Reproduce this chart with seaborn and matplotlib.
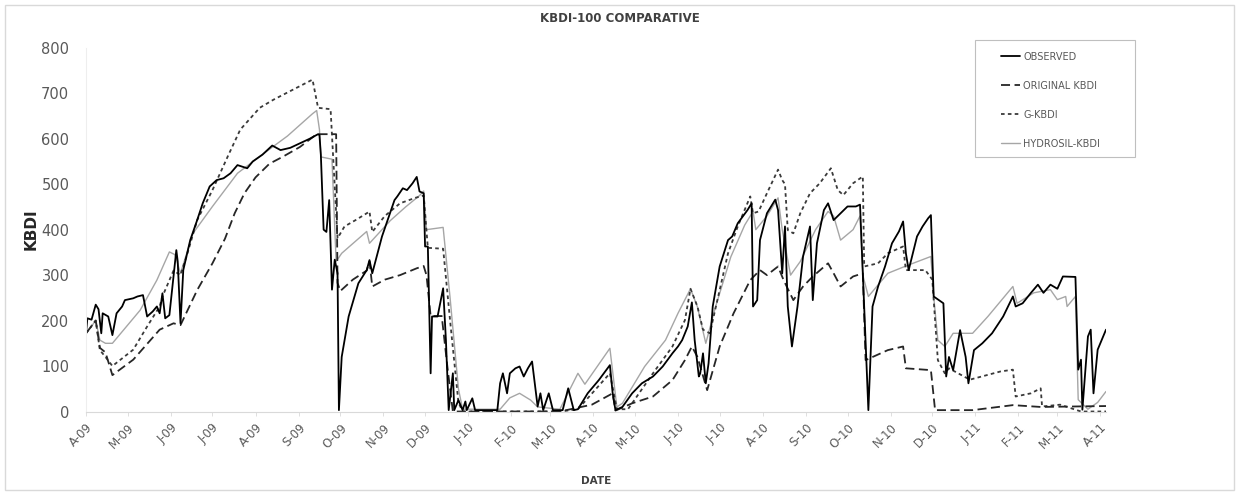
import numpy as np
import pandas as pd
import matplotlib
matplotlib.use("Agg")
import matplotlib.pyplot as plt
from matplotlib.patches import Rectangle
import seaborn as sns

sns.set_theme(style="white")
plt.rcParams["font.family"] = ["DejaVu Sans"]

START = "2009-04-01"

series_names = ["OBSERVED", "ORIGINAL KBDI", "G-KBDI", "HYDROSIL-KBDI"]

# day offsets from 1 Apr 2009 and KBDI values
obs_days = [0, 1, 4, 7, 9, 11, 12, 16, 19, 22, 26, 28, 34, 37, 41, 44, 48, 51, 53, 55, 57, 60, 65, 66, 68, 70,
            75, 80, 84, 89, 94, 99, 104, 109, 116, 120, 127, 134, 140, 147, 154, 161, 167, 168, 169, 171, 173,
            175, 177, 179, 181, 182, 184, 189, 196, 202, 204, 206, 213, 222, 224, 228, 231, 235, 238, 240, 243,
            244, 246, 248, 249, 253, 257, 259, 261, 264, 265, 268, 271, 273, 274, 278, 280, 296, 298, 300, 303,
            305, 309, 312, 315, 318, 321, 325, 327, 329, 333, 336, 343, 347, 351, 354, 361, 369, 377, 379, 381,
            386, 393, 400, 408, 415, 422, 426, 429, 433, 436, 438, 441, 442, 444, 446, 448, 451, 456, 462, 465,
            469, 476, 479, 480, 483, 485, 490, 496, 498, 501, 503, 505, 508, 512, 516, 521, 523, 526, 531, 534,
            538, 543, 548, 554, 557, 559, 561, 563, 566, 570, 575, 580, 585, 588, 590, 592, 595, 598, 602, 606,
            608, 610, 617, 619, 621, 624, 629, 633, 635, 639, 645, 652, 660, 667, 669, 674, 680, 685, 689, 694,
            699, 703, 712, 714, 716, 717, 721, 723, 725, 728, 734]
obs_vals = [172, 205, 202, 235, 225, 172, 216, 209, 168, 216, 231, 245, 249, 253, 256, 209, 220, 231, 216, 260,
            205, 212, 355, 330, 194, 311, 377, 421, 458, 495, 509, 513, 524, 542, 535, 550, 565, 585, 575, 580,
            590, 600, 610, 608, 565, 400, 395, 465, 268, 334, 304, 3, 120, 209, 282, 311, 333, 304, 385, 465,
            473, 491, 487, 502, 516, 484, 480, 363, 363, 84, 209, 209, 271, 157, 3, 84, 3, 25, 3, 22, 3, 29, 3,
            3, 62, 84, 40, 84, 95, 99, 77, 95, 110, 11, 40, 3, 40, 3, 3, 51, 3, 5, 40, 69, 102, 40, 3, 10, 40,
            62, 77, 99, 128, 143, 157, 187, 240, 157, 77, 84, 128, 62, 106, 231, 319, 377, 385, 414, 443, 458,
            231, 245, 377, 436, 466, 443, 304, 407, 231, 143, 231, 341, 407, 245, 370, 443, 458, 421, 436, 451,
            451, 455, 304, 157, 3, 231, 275, 319, 370, 396, 418, 348, 311, 348, 385, 407, 425, 432, 253, 238,
            77, 120, 91, 179, 120, 62, 135, 150, 172, 209, 253, 231, 238, 261, 279, 261, 279, 270, 297, 296, 92,
            114, 4, 165, 180, 40, 136, 180]

orig_days = [0, 7, 10, 14, 19, 34, 53, 63, 68, 80, 91, 100, 107, 114, 122, 132, 142, 154, 166, 180, 181, 183,
             192, 202, 204, 206, 215, 226, 238, 243, 245, 248, 256, 260, 264, 341, 364, 379, 381, 393, 408, 422,
             431, 436, 440, 447, 456, 466, 478, 485, 490, 498, 502, 509, 516, 523, 534, 538, 543, 552, 559, 561,
             577, 588, 590, 608, 611, 638, 667, 687, 734]
orig_vals = [172, 200, 140, 130, 80, 114, 180, 194, 190, 267, 326, 380, 436, 480, 515, 545, 561, 582, 610, 610,
             283, 265, 290, 310, 330, 275, 290, 300, 315, 320, 300, 210, 210, 100, 0, 0, 15, 40, 2, 18, 33, 69,
             113, 143, 120, 47, 143, 216, 289, 311, 300, 319, 289, 245, 275, 297, 326, 304, 275, 297, 304, 113,
             135, 143, 95, 91, 3, 3, 14, 10, 12]

g_days = [0, 7, 10, 14, 19, 34, 44, 53, 55, 63, 68, 73, 80, 91, 102, 111, 125, 135, 149, 163, 167, 176, 181,
          186, 194, 202, 204, 206, 215, 226, 237, 243, 246, 257, 262, 268, 271, 341, 354, 370, 377, 382, 390,
          408, 422, 431, 435, 440, 444, 449, 451, 462, 469, 478, 480, 484, 490, 498, 501, 503, 505, 509, 514,
          521, 528, 536, 541, 545, 552, 559, 560, 570, 577, 588, 590, 604, 609, 613, 618, 621, 636, 658, 667,
          669, 680, 687, 688, 701, 716, 734]
g_vals = [172, 200, 135, 120, 100, 136, 187, 231, 253, 310, 300, 348, 421, 487, 561, 620, 668, 686, 708, 730,
          668, 665, 381, 407, 421, 436, 440, 395, 430, 458, 470, 475, 360, 358, 200, 20, 0, 0, 5, 60, 84, 5, 5,
          84, 143, 201, 270, 231, 180, 172, 200, 348, 407, 473, 436, 440, 480, 532, 509, 500, 399, 392, 436,
          480, 502, 535, 487, 476, 502, 517, 319, 326, 348, 363, 311, 311, 290, 113, 84, 95, 70, 88, 92, 33,
          40, 51, 11, 15, 0, 0]

hyd_days = [0, 7, 10, 14, 19, 39, 51, 60, 64, 68, 77, 91, 109, 125, 145, 163, 166, 168, 169, 177, 180, 184,
            202, 204, 219, 230, 240, 243, 245, 257, 262, 268, 271, 298, 305, 312, 320, 325, 341, 354, 359, 377,
            382, 386, 402, 417, 426, 435, 440, 446, 453, 464, 474, 480, 482, 490, 498, 501, 507, 514, 525, 534,
            538, 543, 552, 557, 559, 563, 577, 590, 608, 610, 613, 618, 624, 638, 649, 667, 670, 682, 694, 699,
            705, 706, 712, 714, 721, 728, 734]
hyd_vals = [172, 200, 157, 150, 150, 223, 289, 351, 345, 304, 392, 451, 524, 561, 606, 655, 662, 620, 560, 555,
            330, 348, 396, 370, 420, 450, 475, 485, 400, 405, 250, 50, 5, 5, 30, 40, 25, 10, 5, 84, 60, 139, 10,
            18, 99, 157, 216, 270, 230, 150, 230, 340, 410, 440, 400, 430, 470, 400, 300, 330, 400, 440, 430,
            377, 400, 430, 300, 253, 304, 320, 341, 253, 157, 143, 172, 172, 209, 275, 238, 261, 268, 246, 253,
            231, 253, 26, 5, 20, 44]

tick_labels = ["A-09", "M-09", "J-09", "J-09", "A-09", "S-09", "O-09", "N-09", "D-09", "J-10", "F-10", "M-10",
               "A-10", "M-10", "J-10", "J-10", "A-10", "S-10", "O-10", "N-10", "D-10", "J-11", "F-11", "M-11",
               "A-11"]
y_ticks = [0, 100, 200, 300, 400, 500, 600, 700, 800]

start = pd.Timestamp(START)


def frame(days, vals, name):
    return pd.DataFrame({"date": start + pd.to_timedelta(days, unit="D"),
                         "KBDI": vals, "series": name})


data = {
    "OBSERVED": frame(obs_days, obs_vals, "OBSERVED"),
    "ORIGINAL KBDI": frame(orig_days, orig_vals, "ORIGINAL KBDI"),
    "G-KBDI": frame(g_days, g_vals, "G-KBDI"),
    "HYDROSIL-KBDI": frame(hyd_days, hyd_vals, "HYDROSIL-KBDI"),
}
styles = {
    "OBSERVED": dict(color="#000000", lw=1.3, dashes=None),
    "ORIGINAL KBDI": dict(color="#262626", lw=1.3, dashes=(5, 2.5)),
    "G-KBDI": dict(color="#3a3a3a", lw=1.3, dashes=(2, 1.8)),
    "HYDROSIL-KBDI": dict(color="#a6a6a6", lw=1.0, dashes=None),
}

W, H = 1239, 495
fig = plt.figure(figsize=(W / 100, H / 100), dpi=100)
fig.patch.set_facecolor("white")
ax = fig.add_axes([86 / W, 83.5 / H, 1020 / W, 363.7 / H])

handles = {}
for name in ["HYDROSIL-KBDI", "G-KBDI", "ORIGINAL KBDI", "OBSERVED"]:
    st = styles[name]
    sns.lineplot(data=data[name], x="date", y="KBDI", ax=ax, color=st["color"], lw=st["lw"],
                 estimator=None, sort=False, legend=False)
    line = ax.lines[-1]
    if st["dashes"] is not None:
        line.set_dashes(st["dashes"])
    line.set_label(name)
    handles[name] = line

ax.set_xlim(start, start + pd.Timedelta(days=734))
ax.set_ylim(0, 800)
ticks = pd.date_range(start, periods=len(tick_labels), freq="MS")
ax.set_xticks(ticks)
ax.set_xticklabels(tick_labels, rotation=45, ha="right", va="top", rotation_mode="anchor",
                   fontsize=8.5, color="#595959")
ax.set_yticks(y_ticks)
ax.set_yticklabels([str(v) for v in y_ticks], fontsize=10.5, color="#595959")
ax.tick_params(axis="y", length=0, pad=12)
ax.tick_params(axis="x", length=3, width=0.6, color="#d9d9d9", pad=4, direction="out")
ax.xaxis.set_ticks_position("bottom")
ax.set_xlabel("")
ax.set_ylabel("")
for s in ["top", "right"]:
    ax.spines[s].set_visible(False)
ax.spines["left"].set_color("#eeeeee")
ax.spines["bottom"].set_color("#d9d9d9")
ax.spines["left"].set_linewidth(0.8)
ax.spines["bottom"].set_linewidth(0.8)
ax.grid(False)

fig.text(620 / W, 1 - 18 / H, "KBDI-100 COMPARATIVE", ha="center", va="center",
         fontsize=8.5, fontweight="bold", color="#404040")
fig.text(31 / W, 1 - 229 / H, "KBDI", ha="center", va="center", rotation=90,
         fontsize=11, fontweight="bold", color="#262626")
fig.text(596 / W, 1 - 481 / H, "DATE", ha="center", va="center",
         fontsize=7.5, fontweight="bold", color="#404040")

# legend box and entries
fig.patches.append(Rectangle((975 / W, 1 - 157 / H), 160 / W, 117 / H, transform=fig.transFigure,
                             fill=False, edgecolor="#bfbfbf", lw=0.8))
leg = fig.legend(handles=[handles[n] for n in series_names], labels=series_names,
                 loc="upper left", bbox_to_anchor=(993 / W, 1 - 44 / H), frameon=False,
                 fontsize=7, labelspacing=1.95, handlelength=2.0, handletextpad=0.3,
                 borderpad=0.3, labelcolor="#595959")

# outer chart border
fig.patches.append(Rectangle((5 / W, 5 / H), 1229 / W, 485 / H, transform=fig.transFigure,
                             fill=False, edgecolor="#d9d9d9", lw=1))

fig.savefig("out.png", dpi=100, facecolor="white")
